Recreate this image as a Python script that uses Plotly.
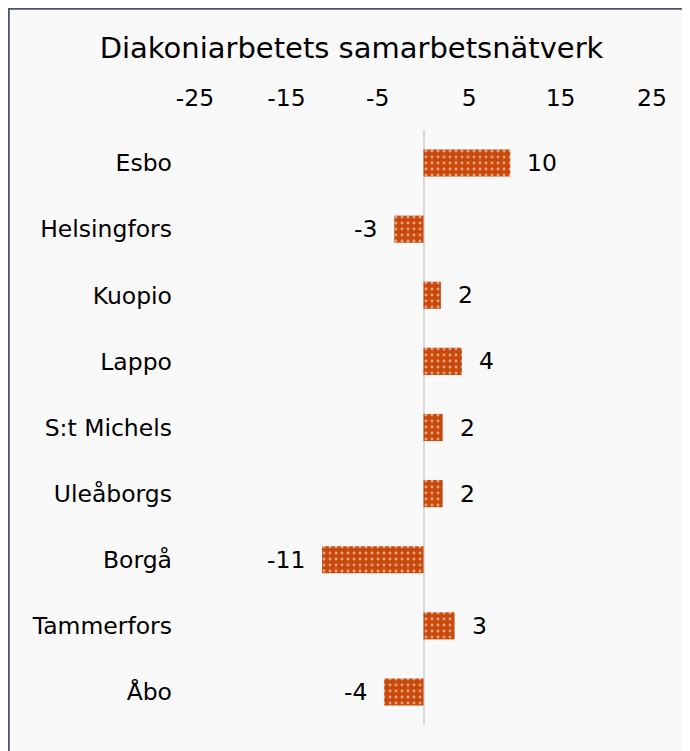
import plotly.graph_objects as go

categories = ["Esbo", "Helsingfors", "Kuopio", "Lappo", "S:t Michels",
              "Uleåborgs", "Borgå", "Tammerfors", "Åbo"]
values = [9.5, -3.2, 1.9, 4.2, 2.1, 2.1, -11.1, 3.4, -4.3]
value_labels = ["10", "-3", "2", "4", "2", "2", "-11", "3", "-4"]
x_ticks = [-25, -15, -5, 5, 15, 25]

BAR = "#C9490A"
FONT = "DejaVu Sans, Verdana, sans-serif"
W, H = 690, 751

fig = go.Figure()
fig.add_trace(go.Bar(
    y=categories, x=values, orientation="h",
    marker=dict(color=BAR, line=dict(width=0),
                pattern=dict(shape=".", fgcolor="white", bgcolor=BAR,
                             size=6, solidity=0.18, fillmode="overlay")),
    hoverinfo="skip",
))

for c, v, t in zip(categories, values, value_labels):
    fig.add_annotation(x=v, y=c, text=t, showarrow=False,
                       xanchor="left" if v >= 0 else "right",
                       xshift=15 if v >= 0 else -15,
                       font=dict(size=23.5, color="#000000", family=FONT))

# plot area in figure pixels
L, R, T, B = 187, 644, 122, 717
def px(x): return (x - L) / (R - L)
def py(y): return (B - y) / (B - T)
# outer chart border (only top/left visible in the window)
fig.add_shape(type="rect", xref="paper", yref="paper",
              x0=px(0.5), x1=px(W + 20), y0=py(0.5), y1=py(H + 20),
              line=dict(color="#44546A", width=2.5), fillcolor="rgba(0,0,0,0)",
              layer="below")

fig.update_layout(
    width=W, height=H,
    margin=dict(l=L, r=W - R, t=T, b=H - B),
    paper_bgcolor="#F9F9F9", plot_bgcolor="#F9F9F9",
    bargap=0.59,
    showlegend=False,
    title=dict(text="Diakoniarbetets samarbetsnätverk", x=(97 + 606) / 2 / W - 8 / W,
               xref="container", xanchor="center", y=1 - 40 / H, yanchor="middle",
               font=dict(size=29, color="#000000", family=FONT)),
    font=dict(family=FONT, color="#000000"),
    xaxis=dict(range=[-25, 25], side="top", tickvals=x_ticks,
               ticktext=[str(t) for t in x_ticks], showgrid=False,
               zeroline=True, zerolinecolor="#D9D9D9", zerolinewidth=2,
               showline=False, ticks="", ticklabelstandoff=18,
               tickfont=dict(size=23.5, family=FONT)),
    yaxis=dict(categoryorder="array", categoryarray=categories,
               autorange="reversed", showgrid=False, zeroline=False,
               showline=False, ticks="", ticklabelstandoff=22,
               tickfont=dict(size=23.5, family=FONT)),
)

fig.write_html("out.html")
